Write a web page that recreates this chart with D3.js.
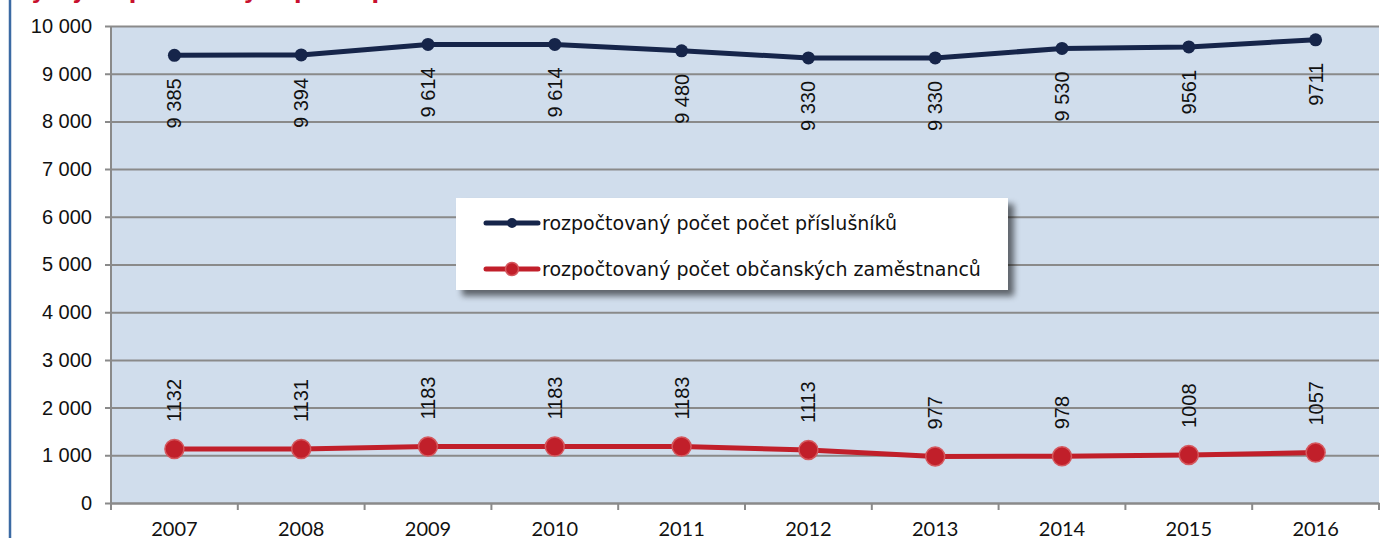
<!DOCTYPE html>
<html>
<head>
<meta charset="utf-8">
<script src="https://cdn.jsdelivr.net/npm/d3@7"></script>
<style>
  html, body { margin: 0; padding: 0; background: #fff; }
  svg { display: block; }
</style>
</head>
<body>
<svg id="chart" width="1389" height="538"></svg>
<script>
// Years on the category axis
const years = ["2007", "2008", "2009", "2010", "2011", "2012", "2013", "2014", "2015", "2016"];

// Budgeted number of service members
const members = [9385, 9394, 9614, 9614, 9480, 9330, 9330, 9530, 9561, 9711];
const memberLabels = ["9 385", "9 394", "9 614", "9 614", "9 480", "9 330", "9 330", "9 530", "9561", "9711"];

// Budgeted number of civilian employees
const civilians = [1132, 1131, 1183, 1183, 1183, 1113, 977, 978, 1008, 1057];
const civilianLabels = ["1132", "1131", "1183", "1183", "1183", "1113", "977", "978", "1008", "1057"];

// Value axis ticks
const yTicks = [0, 1000, 2000, 3000, 4000, 5000, 6000, 7000, 8000, 9000, 10000];

const seriesNames = [
  "rozpočtovaný počet počet příslušníků",
  "rozpočtovaný počet občanských zaměstnanců"
];

const svg = d3.select("#chart");
const W = 1389, H = 538;
const plot = { left: 111, right: 1379, top: 26, bottom: 503 };

const navy = "#16254a";
const red = "#c11f2a";
const gridColor = "#8a8a8a";

const x = d3.scaleBand().domain(years).range([plot.left, plot.right]);
const y = d3.scaleLinear().domain([0, 10000]).range([plot.bottom, plot.top]);
const cx = d => x(d) + x.bandwidth() / 2;

const defs = svg.append("defs");
const shadow = defs.append("filter").attr("id", "legendShadow")
  .attr("x", "-10%").attr("y", "-20%").attr("width", "130%").attr("height", "160%");
shadow.append("feGaussianBlur").attr("in", "SourceAlpha").attr("stdDeviation", 3).attr("result", "b");
shadow.append("feOffset").attr("in", "b").attr("dx", 6).attr("dy", 6).attr("result", "o");
shadow.append("feComponentTransfer").attr("in", "o").attr("result", "s")
  .append("feFuncA").attr("type", "linear").attr("slope", 0.55);
const merge = shadow.append("feMerge");
merge.append("feMergeNode").attr("in", "s");
merge.append("feMergeNode").attr("in", "SourceGraphic");

// Title line, clipped by the top edge of the page
svg.append("text")
  .attr("x", 14).attr("y", -1)
  .attr("font-family", "'DejaVu Sans', sans-serif")
  .attr("font-weight", "bold")
  .attr("font-size", 22)
  .attr("fill", "#c8102e")
  .text("Vývoj rozpočtovaných počtů příslušníků a zaměstnanců");

// Frame line on the left side
svg.append("line")
  .attr("x1", 10).attr("x2", 10).attr("y1", 0).attr("y2", H)
  .attr("stroke", "#3b6aa3").attr("stroke-width", 2.5);

// Plot background
svg.append("rect")
  .attr("x", plot.left).attr("y", plot.top)
  .attr("width", plot.right - plot.left).attr("height", plot.bottom - plot.top)
  .attr("fill", "#d0ddec");

const arial = "'Liberation Sans', Arial, sans-serif";

// Value axis with gridlines
const yAxis = d3.axisLeft(y)
  .tickValues(yTicks)
  .tickSize(-(plot.right - plot.left))
  .tickPadding(14)
  .tickFormat(d => d3.format(",")(d).replace(/,/g, " "));
const yg = svg.append("g").attr("transform", `translate(${plot.left},0)`).call(yAxis);
yg.select(".domain").attr("stroke", gridColor).attr("stroke-width", 2)
  .attr("d", `M0,${plot.top}V${plot.bottom}`);
yg.selectAll(".tick line").attr("stroke", gridColor).attr("stroke-width", 2)
  .attr("x1", -6);
yg.selectAll(".tick text")
  .attr("font-family", arial)
  .attr("font-size", 20).attr("fill", "#111")
  .attr("x", -19);

// Category axis
const xAxis = d3.axisBottom(x).tickSize(0).tickPadding(19);
const xg = svg.append("g").attr("transform", `translate(0,${plot.bottom})`).call(xAxis);
xg.select(".domain").attr("stroke", gridColor).attr("stroke-width", 2);
xg.selectAll(".tick text")
  .attr("font-family", "Lato, sans-serif")
  .attr("font-size", 20).attr("fill", "#111");
// Band boundary tick marks
const bounds = years.map(d => x(d)).concat([plot.right]);
svg.append("g").selectAll("line").data(bounds).join("line")
  .attr("x1", d => d).attr("x2", d => d)
  .attr("y1", plot.bottom).attr("y2", plot.bottom + 7)
  .attr("stroke", gridColor).attr("stroke-width", 2);

// Series lines
const line = d3.line().x((d, i) => cx(years[i])).y(d => y(d));

svg.append("path").datum(members)
  .attr("d", line).attr("fill", "none")
  .attr("stroke", navy).attr("stroke-width", 5).attr("stroke-linejoin", "round");
svg.append("g").selectAll("circle").data(members).join("circle")
  .attr("cx", (d, i) => cx(years[i])).attr("cy", d => y(d)).attr("r", 6.5)
  .attr("fill", navy);

svg.append("path").datum(civilians)
  .attr("d", line).attr("fill", "none")
  .attr("stroke", red).attr("stroke-width", 5).attr("stroke-linejoin", "round");
svg.append("g").selectAll("circle").data(civilians).join("circle")
  .attr("cx", (d, i) => cx(years[i])).attr("cy", d => y(d)).attr("r", 9.5)
  .attr("fill", red).attr("stroke", "#d5585e").attr("stroke-width", 1.5);

// Rotated value labels
svg.append("g").selectAll("text").data(members).join("text")
  .attr("transform", (d, i) => `translate(${cx(years[i])},${y(d) + 23}) rotate(-90)`)
  .attr("text-anchor", "end").attr("dy", "0.35em")
  .attr("font-family", arial)
  .attr("font-size", 20).attr("fill", "#111")
  .text((d, i) => memberLabels[i]);

svg.append("g").selectAll("text").data(civilians).join("text")
  .attr("transform", (d, i) => `translate(${cx(years[i])},${y(d) - 27}) rotate(-90)`)
  .attr("text-anchor", "start").attr("dy", "0.35em")
  .attr("font-family", arial)
  .attr("font-size", 20).attr("fill", "#111")
  .text((d, i) => civilianLabels[i]);

// Legend
const lg = svg.append("g");
lg.append("rect")
  .attr("x", 456).attr("y", 198).attr("width", 552).attr("height", 92)
  .attr("fill", "#fff").attr("filter", "url(#legendShadow)");
const legendItems = [
  { name: seriesNames[0], color: navy, r: 5, stroke: "none" },
  { name: seriesNames[1], color: red, r: 6.5, stroke: "#d5585e" }
];
const li = lg.selectAll("g.item").data(legendItems).join("g")
  .attr("class", "item")
  .attr("transform", (d, i) => `translate(0,${223 + i * 46})`);
li.append("line")
  .attr("x1", 486).attr("x2", 538).attr("y1", 0).attr("y2", 0)
  .attr("stroke", d => d.color).attr("stroke-width", 5).attr("stroke-linecap", "round");
li.append("circle")
  .attr("cx", 512).attr("cy", 0).attr("r", d => d.r)
  .attr("fill", d => d.color).attr("stroke", d => d.stroke).attr("stroke-width", 1.5);
li.append("text")
  .attr("x", 542).attr("y", 0).attr("dy", "0.35em")
  .attr("font-family", "'DejaVu Sans', sans-serif")
  .attr("font-size", 19).attr("fill", "#111")
  .text(d => d.name);
</script>
</body>
</html>
